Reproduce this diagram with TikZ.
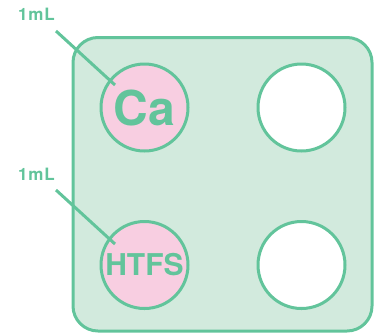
\documentclass[tikz,border=0pt]{standalone}
\usepackage{fontspec}
\setmainfont{TeX Gyre Heros}
\usepackage{xcolor}
\definecolor{plategreen}{HTML}{62C49B}
\definecolor{platefill}{HTML}{D2EADD}
\definecolor{wellpink}{HTML}{F8CEE1}
\usetikzlibrary{positioning}
\tikzset{
	well/.style={circle, draw=plategreen, line width=3pt, minimum size=87pt, inner sep=0pt, text=plategreen, font=\bfseries},
	volume/.style={text=plategreen, font=\bfseries\fontsize{17}{19}\selectfont\addfontfeature{LetterSpace=5}},
	pointer/.style={draw=plategreen, line width=3pt}
}

\begin{document}
\begin{tikzpicture}[x=1pt, y=-1pt]
	\useasboundingbox (0,0) rectangle (379,333);

	% plate
	\filldraw[color=platefill, draw=plategreen, line width=3pt, rounded corners=25pt] (73,37.5) rectangle (372,331);

	% wells
	\node[well, fill=wellpink, font=\bfseries\fontsize{48}{50}\selectfont] (ca) at (144.5,107.5) {Ca};
	\node[well, fill=white] (topright) at (301.5,107.5) {};
	\node[well, fill=wellpink, font=\bfseries\fontsize{30}{32}\selectfont] (htfs) at (144.5,265) {HTFS};
	\node[well, fill=white] (bottomright) at (301.5,265) {};

	% volumes
	\node[volume] (vol1) at (36.5,14) {1mL};
	\node[volume] (vol2) at (36.5,174) {1mL};
	\coordinate (tip1) at (56,31);
	\coordinate (end1) at (115,85);
	\coordinate (tip2) at (56,190);
	\coordinate (end2) at (115,244);
	\draw[pointer] (tip1) -- (end1);
	\draw[pointer] (tip2) -- (end2);
\end{tikzpicture}
\end{document}
